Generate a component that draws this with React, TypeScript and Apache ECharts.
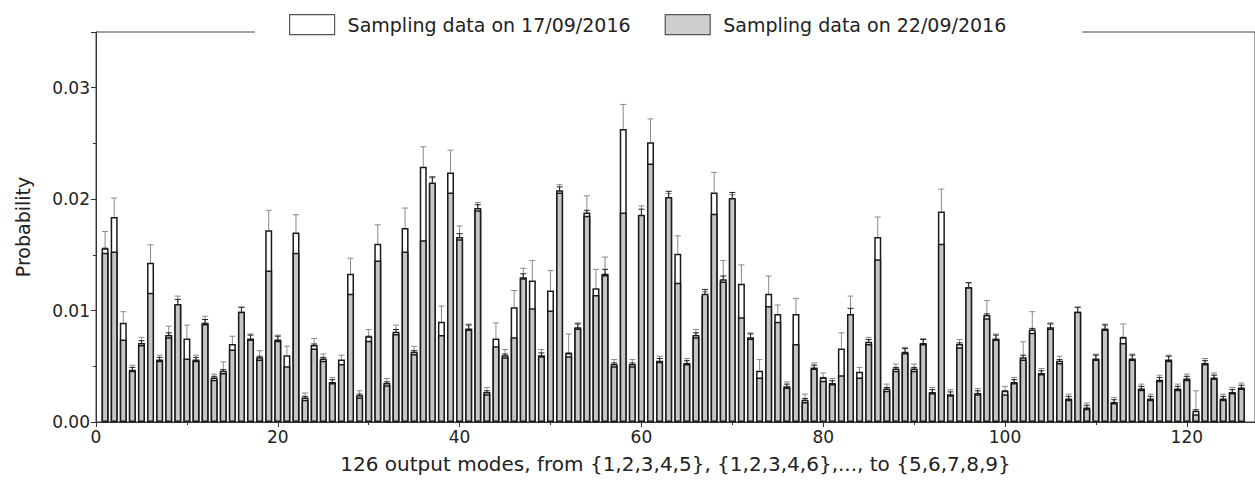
import React, { useEffect, useRef } from "react";
import * as echarts from "echarts";

const seriesNames = ["Sampling data on 17/09/2016", "Sampling data on 22/09/2016"];
const xTicks = [0, 20, 40, 60, 80, 100, 120];
const yTicks = [0, 0.01, 0.02, 0.03];
const xTitle = "126 output modes, from {1,2,3,4,5}, {1,2,3,4,6},..., to {5,6,7,8,9}";
const yTitle = "Probability";

// output modes 1..126
const modes: number[] = Array.from({ length: 126 }, (_, i) => i + 1);

const white17 = [
  0.0156, 0.0184, 0.0089, 0.0047, 0.0071, 0.0143, 0.0056, 0.0078, 0.0105, 0.0075,
  0.0056, 0.0089, 0.0040, 0.0046, 0.0070, 0.0099, 0.0075, 0.0058, 0.0172, 0.0074,
  0.0060, 0.0170, 0.0022, 0.0069, 0.0057, 0.0036, 0.0056, 0.0133, 0.0024, 0.0077,
  0.0160, 0.0035, 0.0081, 0.0174, 0.0063, 0.0229, 0.0213, 0.0090, 0.0224, 0.0166,
  0.0084, 0.0192, 0.0027, 0.0075, 0.0060, 0.0103, 0.0130, 0.0127, 0.0060, 0.0118,
  0.0208, 0.0062, 0.0085, 0.0188, 0.0120, 0.0133, 0.0052, 0.0263, 0.0052, 0.0184,
  0.0251, 0.0055, 0.0201, 0.0151, 0.0053, 0.0078, 0.0113, 0.0206, 0.0128, 0.0200,
  0.0124, 0.0076, 0.0046, 0.0115, 0.0097, 0.0032, 0.0097, 0.0020, 0.0049, 0.0040,
  0.0035, 0.0066, 0.0097, 0.0045, 0.0072, 0.0166, 0.0030, 0.0048, 0.0063, 0.0048,
  0.0071, 0.0027, 0.0189, 0.0025, 0.0070, 0.0121, 0.0026, 0.0096, 0.0075, 0.0028,
  0.0036, 0.0058, 0.0083, 0.0044, 0.0085, 0.0055, 0.0021, 0.0099, 0.0013, 0.0057,
  0.0084, 0.0018, 0.0076, 0.0057, 0.0030, 0.0021, 0.0038, 0.0056, 0.0030, 0.0039,
  0.0010, 0.0053, 0.0040, 0.0021, 0.0027, 0.0031,
];

const gray22 = [
  0.0152, 0.0153, 0.0074, 0.0046, 0.0069, 0.0116, 0.0055, 0.0076, 0.0106, 0.0057,
  0.0055, 0.0088, 0.0038, 0.0044, 0.0065, 0.0099, 0.0074, 0.0056, 0.0136, 0.0073,
  0.0050, 0.0152, 0.0020, 0.0066, 0.0055, 0.0035, 0.0052, 0.0115, 0.0022, 0.0073,
  0.0145, 0.0033, 0.0079, 0.0153, 0.0061, 0.0163, 0.0215, 0.0078, 0.0206, 0.0164,
  0.0083, 0.0190, 0.0025, 0.0068, 0.0058, 0.0076, 0.0129, 0.0102, 0.0059, 0.0100,
  0.0206, 0.0059, 0.0084, 0.0185, 0.0114, 0.0132, 0.0050, 0.0188, 0.0050, 0.0186,
  0.0232, 0.0054, 0.0202, 0.0125, 0.0052, 0.0076, 0.0115, 0.0187, 0.0126, 0.0201,
  0.0094, 0.0075, 0.0040, 0.0104, 0.0090, 0.0031, 0.0070, 0.0018, 0.0048, 0.0037,
  0.0034, 0.0042, 0.0097, 0.0040, 0.0070, 0.0146, 0.0028, 0.0046, 0.0062, 0.0046,
  0.0070, 0.0026, 0.0160, 0.0024, 0.0067, 0.0121, 0.0025, 0.0093, 0.0074, 0.0025,
  0.0035, 0.0056, 0.0080, 0.0043, 0.0084, 0.0053, 0.0020, 0.0099, 0.0012, 0.0056,
  0.0083, 0.0017, 0.0071, 0.0056, 0.0029, 0.0020, 0.0037, 0.0055, 0.0029, 0.0038,
  0.0007, 0.0052, 0.0039, 0.0020, 0.0026, 0.0030,
];

const white17Err = [
  0.0015, 0.0017, 0.0010, 0.0004, 0.0005, 0.0016, 0.0004, 0.0008, 0.0008, 0.0012,
  0.0004, 0.0006, 0.0003, 0.0008, 0.0007, 0.0004, 0.0004, 0.0006, 0.0018, 0.0004,
  0.0008, 0.0016, 0.0004, 0.0006, 0.0004, 0.0004, 0.0004, 0.0014, 0.0004, 0.0006,
  0.0017, 0.0004, 0.0006, 0.0018, 0.0005, 0.0018, 0.0006, 0.0014, 0.0020, 0.0010,
  0.0004, 0.0005, 0.0004, 0.0014, 0.0005, 0.0015, 0.0008, 0.0018, 0.0005, 0.0018,
  0.0005, 0.0017, 0.0004, 0.0015, 0.0017, 0.0015, 0.0004, 0.0022, 0.0004, 0.0010,
  0.0021, 0.0004, 0.0004, 0.0016, 0.0004, 0.0005, 0.0004, 0.0018, 0.0017, 0.0004,
  0.0017, 0.0004, 0.0010, 0.0016, 0.0008, 0.0004, 0.0014, 0.0005, 0.0004, 0.0004,
  0.0004, 0.0014, 0.0016, 0.0004, 0.0004, 0.0018, 0.0004, 0.0004, 0.0004, 0.0004,
  0.0004, 0.0004, 0.0020, 0.0004, 0.0004, 0.0004, 0.0004, 0.0013, 0.0004, 0.0004,
  0.0004, 0.0014, 0.0016, 0.0004, 0.0004, 0.0004, 0.0004, 0.0004, 0.0004, 0.0004,
  0.0004, 0.0004, 0.0012, 0.0004, 0.0004, 0.0004, 0.0004, 0.0004, 0.0004, 0.0004,
  0.0018, 0.0004, 0.0004, 0.0004, 0.0004, 0.0004,
];

const gray22Err = [
  0.0004, 0.0005, 0.0004, 0.0003, 0.0004, 0.0005, 0.0003, 0.0004, 0.0004, 0.0003,
  0.0003, 0.0004, 0.0003, 0.0003, 0.0004, 0.0004, 0.0004, 0.0003, 0.0005, 0.0004,
  0.0003, 0.0005, 0.0003, 0.0004, 0.0003, 0.0003, 0.0003, 0.0005, 0.0003, 0.0004,
  0.0005, 0.0003, 0.0004, 0.0005, 0.0003, 0.0006, 0.0005, 0.0004, 0.0005, 0.0005,
  0.0004, 0.0005, 0.0003, 0.0004, 0.0003, 0.0004, 0.0004, 0.0005, 0.0003, 0.0005,
  0.0005, 0.0003, 0.0004, 0.0005, 0.0004, 0.0005, 0.0003, 0.0006, 0.0003, 0.0005,
  0.0006, 0.0003, 0.0005, 0.0005, 0.0003, 0.0004, 0.0004, 0.0005, 0.0005, 0.0005,
  0.0004, 0.0004, 0.0003, 0.0004, 0.0004, 0.0003, 0.0004, 0.0003, 0.0003, 0.0003,
  0.0003, 0.0004, 0.0005, 0.0003, 0.0004, 0.0005, 0.0003, 0.0003, 0.0004, 0.0003,
  0.0004, 0.0003, 0.0006, 0.0003, 0.0004, 0.0004, 0.0003, 0.0004, 0.0004, 0.0003,
  0.0003, 0.0004, 0.0004, 0.0003, 0.0004, 0.0003, 0.0003, 0.0004, 0.0003, 0.0004,
  0.0004, 0.0003, 0.0005, 0.0004, 0.0003, 0.0003, 0.0003, 0.0004, 0.0003, 0.0003,
  0.0004, 0.0003, 0.0003, 0.0003, 0.0003, 0.0003,
];

const FONT = "DejaVu Sans";

function errorRender(color: string) {
  return (params: any, api: any) => {
    const x = api.value(0);
    const y = api.value(1);
    const e = api.value(2);
    const p0 = api.coord([x, y]);
    const p1 = api.coord([x, y + e]);
    const style = { stroke: color, lineWidth: 1 };
    return {
      type: "group",
      children: [
        { type: "line", shape: { x1: p0[0], y1: p0[1], x2: p1[0], y2: p1[1] }, style },
        { type: "line", shape: { x1: p1[0] - 3, y1: p1[1], x2: p1[0] + 3, y2: p1[1] }, style },
      ],
    };
  };
}

export default function App() {
  const ref = useRef<HTMLDivElement>(null);
  useEffect(() => {
    if (!ref.current) return;
    const chart = echarts.init(ref.current, null, { renderer: "svg" });
    const whiteData = modes.map((m, i) => [m, white17[i]]);
    const grayData = modes.map((m, i) => [m, gray22[i]]);
    const whiteErrData = modes.map((m, i) => [m, white17[i], white17Err[i]]);
    const grayErrData = modes.map((m, i) => [m, gray22[i], gray22Err[i]]);
    chart.setOption({
      animation: false,
      backgroundColor: "#fff",
      textStyle: { fontFamily: FONT },
      grid: {
        left: 96,
        top: 32,
        bottom: 66,
        right: -6,
        show: true,
        borderColor: "#444",
        borderWidth: 1,
        backgroundColor: "transparent",
      },
      legend: {
        z: 20,
        left: 255,
        top: 10,
        padding: [4, 76, 4, 34],
        backgroundColor: "#fff",
        itemWidth: 45,
        itemHeight: 20,
        itemGap: 34,
        textStyle: { fontFamily: FONT, fontSize: 19, color: "#222", padding: [0, 0, 0, 8] },
        data: [
          { name: seriesNames[0], icon: "rect", itemStyle: { color: "#fff", borderColor: "#555", borderWidth: 1.2 } },
          { name: seriesNames[1], icon: "rect", itemStyle: { color: "#cfcfcf", borderColor: "#555", borderWidth: 1.2 } },
        ],
      },
      xAxis: {
        type: "value",
        min: 0,
        max: 127.5,
        interval: 20,
        name: xTitle,
        nameLocation: "middle",
        nameGap: 32,
        nameTextStyle: { fontFamily: FONT, fontSize: 20, color: "#222" },
        axisLine: { show: true, lineStyle: { color: "#333", width: 1 } },
        axisTick: { show: true, inside: false, length: 5, lineStyle: { color: "#333" } },
        minorTick: { show: true, splitNumber: 2, length: 3, lineStyle: { color: "#333" } },
        axisLabel: {
          fontFamily: FONT,
          fontSize: 17,
          color: "#222",
          margin: 6,
          showMaxLabel: false,
          formatter: (v: number) => (xTicks.includes(v) ? String(v) : ""),
        },
        splitLine: { show: false },
      },
      yAxis: {
        type: "value",
        min: 0,
        max: 0.035,
        interval: 0.01,
        name: yTitle,
        nameLocation: "middle",
        nameGap: 64,
        nameTextStyle: { fontFamily: FONT, fontSize: 19, color: "#222" },
        axisLine: { show: true, lineStyle: { color: "#333", width: 1 } },
        axisTick: { show: true, inside: false, length: 5, lineStyle: { color: "#333" } },
        minorTick: { show: true, splitNumber: 2, length: 3, lineStyle: { color: "#333" } },
        axisLabel: {
          fontFamily: FONT,
          fontSize: 17,
          color: "#222",
          margin: 6,
          showMaxLabel: false,
          formatter: (v: number) => {
            const hit = yTicks.find((t) => Math.abs(t - v) < 1e-9);
            return hit === undefined ? "" : hit.toFixed(2);
          },
        },
        splitLine: { show: false },
      },
      series: [
        {
          name: seriesNames[0],
          type: "bar",
          barWidth: 7,
          barGap: "-100%",
          data: whiteData,
          itemStyle: { color: "#fff", borderColor: "#1a1a1a", borderWidth: 1.5 },
        },
        {
          name: "err17",
          type: "custom",
          coordinateSystem: "cartesian2d",
          renderItem: errorRender("#8a8a8a"),
          encode: { x: 0, y: 1 },
          data: whiteErrData,
          silent: true,
        },
        {
          name: seriesNames[1],
          type: "bar",
          barWidth: 7,
          barGap: "-100%",
          data: grayData,
          itemStyle: { color: "#c6c6c6", borderColor: "#1a1a1a", borderWidth: 1.5 },
        },
        {
          name: "err22",
          type: "custom",
          coordinateSystem: "cartesian2d",
          renderItem: errorRender("#222"),
          encode: { x: 0, y: 1 },
          data: grayErrData,
          silent: true,
        },
      ],
    });
    return () => chart.dispose();
  }, []);
  return (
    <div
      ref={ref}
      style={{ position: "fixed", left: 0, top: 0, width: 1255, height: 488, background: "#fff" }}
    />
  );
}
